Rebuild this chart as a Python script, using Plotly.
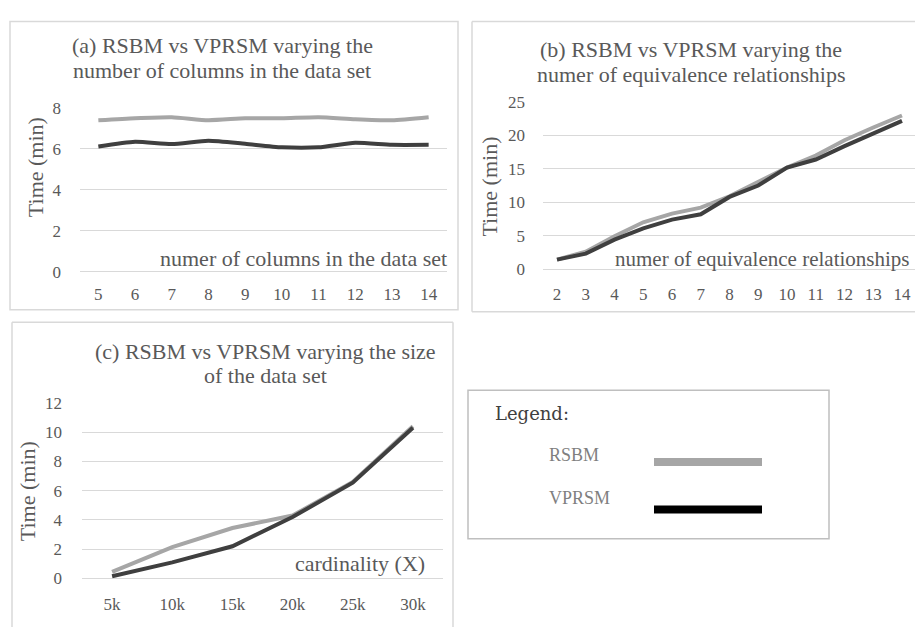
import plotly.graph_objects as go

W, H = 915, 637

# ---- data ----
cols_x = [5, 6, 7, 8, 9, 10, 11, 12, 13, 14]
cols_rsbm = [7.4, 7.5, 7.55, 7.4, 7.5, 7.5, 7.55, 7.45, 7.4, 7.55]
cols_vprsm = [6.12, 6.35, 6.24, 6.4, 6.25, 6.08, 6.08, 6.3, 6.2, 6.2]

eq_x = [2, 3, 4, 5, 6, 7, 8, 9, 10, 11, 12, 13, 14]
eq_rsbm = [1.4, 2.6, 4.9, 7.0, 8.3, 9.2, 10.9, 13.1, 15.2, 17.0, 19.3, 21.2, 23.0]
eq_vprsm = [1.4, 2.3, 4.4, 6.1, 7.4, 8.2, 10.8, 12.5, 15.2, 16.4, 18.4, 20.3, 22.2]

size_x = ["5k", "10k", "15k", "20k", "25k", "30k"]
size_rsbm = [0.45, 2.15, 3.45, 4.3, 6.6, 10.4]
size_vprsm = [0.15, 1.1, 2.2, 4.2, 6.55, 10.3]

GRAY = "#a6a6a6"
DARK = "#3f3f3f"
TXT = "#595959"
GRID = "#d9d9d9"
FONT = "Liberation Serif"


def px(x):
    return x / W


def py(y):
    return 1 - y / H


fig = go.Figure()

# panel a
fig.add_trace(go.Scatter(x=cols_x, y=cols_rsbm, mode="lines", line=dict(color=GRAY, width=4, shape="spline", smoothing=0.6),
                         xaxis="x", yaxis="y", showlegend=False))
fig.add_trace(go.Scatter(x=cols_x, y=cols_vprsm, mode="lines", line=dict(color=DARK, width=4, shape="spline", smoothing=0.6),
                         xaxis="x", yaxis="y", showlegend=False))
# panel b
fig.add_trace(go.Scatter(x=eq_x, y=eq_rsbm, mode="lines", line=dict(color=GRAY, width=4),
                         xaxis="x2", yaxis="y2", showlegend=False))
fig.add_trace(go.Scatter(x=eq_x, y=eq_vprsm, mode="lines", line=dict(color=DARK, width=4),
                         xaxis="x2", yaxis="y2", showlegend=False))
# panel c
fig.add_trace(go.Scatter(x=size_x, y=size_rsbm, mode="lines", line=dict(color=GRAY, width=4),
                         xaxis="x3", yaxis="y3", showlegend=False))
fig.add_trace(go.Scatter(x=size_x, y=size_vprsm, mode="lines", line=dict(color=DARK, width=4),
                         xaxis="x3", yaxis="y3", showlegend=False))

tickfont = dict(family=FONT, size=17, color=TXT)


def xax(domain, rng, anchor, tickvals=None, ttype="linear", standoff=14):
    d = dict(domain=domain, range=rng, anchor=anchor, showgrid=False, zeroline=False,
             showline=False, ticks="", tickfont=tickfont, ticklabelstandoff=standoff, fixedrange=True)
    if ttype == "category":
        d["type"] = "category"
    else:
        d["tickvals"] = tickvals
    return d


def yax(domain, rng, dtick, anchor, standoff=18):
    return dict(domain=domain, range=rng, dtick=dtick, anchor=anchor, showgrid=True, gridcolor=GRID,
                gridwidth=1, zeroline=True, zerolinecolor=GRID, zerolinewidth=1, showline=False, ticks="",
                tickfont=tickfont, ticklabelstandoff=standoff, fixedrange=True)


step_b = 28.75
b_lo = -(557 - 543) / step_b + 2
b_hi = (915 - 557) / step_b + 2

fig.update_layout(
    width=W, height=H, margin=dict(l=0, r=0, t=0, b=0),
    paper_bgcolor="white", plot_bgcolor="white",
    xaxis=xax([px(80), px(447)], [4.5, 14.5], "y", tickvals=cols_x, standoff=10),
    yaxis=yax([py(271), py(102)], [0, 8], 2, "x", standoff=18),
    xaxis2=xax([px(543), 1.0], [b_lo, b_hi], "y2", tickvals=eq_x, standoff=13),
    yaxis2=yax([py(268), py(96)], [0, 25], 5, "x2", standoff=17),
    xaxis3=dict(xax([px(82), px(443)], [-0.5, 5.5], "y3", ttype="category", standoff=14)),
    yaxis3=yax([py(587), py(406)], [0, 12], 2, "x3", standoff=19),
)


def ann(text, x, y, xanchor="center", size=22, color=TXT, angle=0, family=FONT, yanchor="middle"):
    fig.add_annotation(text=text, x=px(x), y=py(y), xref="paper", yref="paper", showarrow=False,
                       xanchor=xanchor, yanchor=yanchor, textangle=angle,
                       font=dict(family=family, size=size, color=color))


# titles (one annotation per line)
ann("(a) RSBM vs VPRSM varying the", 222, 38)
ann("number of columns in the data set", 222, 63)
ann("(b) RSBM vs VPRSM varying the", 691, 42)
ann("numer of equivalence relationships", 691, 67)
ann("(c) RSBM vs VPRSM varying the size", 265, 353)
ann("of the data set", 265, 378)
# y titles
ann("Time (min)", 35, 163, angle=-90)
ann("Time (min)", 490, 183, angle=-90)
ann("Time (min)", 27, 497, angle=-90)
# x titles
ann("numer of columns in the data set", 449, 257, xanchor="right")
ann("numer of equivalence relationships", 911, 258, xanchor="right", size=21)
ann("cardinality (X)", 427, 572, xanchor="right")

# legend box
ann("Legend:", 493, 417, xanchor="left", size=18, color="#404040", family="DejaVu Serif")
ann("RSBM", 547, 460, xanchor="left", size=18, color="#7f7f7f")
ann("VPRSM", 547, 504, xanchor="left", size=18, color="#7f7f7f")

shapes = []
BORDER = dict(color=GRID, width=1.5)
# panel a border
shapes.append(dict(type="rect", xref="paper", yref="paper", x0=px(10), x1=px(458), y0=py(310), y1=py(13), line=BORDER))
# panel b border (right side cut off)
for (x0, y0, x1, y1) in [(472, 13, 915, 13), (472, 13, 472, 312), (472, 312, 915, 312)]:
    shapes.append(dict(type="line", xref="paper", yref="paper", x0=px(x0), y0=py(y0), x1=px(x1), y1=py(y1), line=BORDER))
# panel c border (bottom cut off)
for (x0, y0, x1, y1) in [(12, 323, 453, 323), (12, 323, 12, 637), (453, 323, 453, 637)]:
    shapes.append(dict(type="line", xref="paper", yref="paper", x0=px(x0), y0=py(y0), x1=px(x1), y1=py(y1), line=BORDER))
# legend box
shapes.append(dict(type="rect", xref="paper", yref="paper", x0=px(468), x1=px(829), y0=py(546), y1=py(393),
                   line=dict(color="#bfbfbf", width=1.5)))
shapes.append(dict(type="line", xref="paper", yref="paper", x0=px(654), x1=px(762), y0=py(467), y1=py(467),
                   line=dict(color=GRAY, width=8)))
shapes.append(dict(type="line", xref="paper", yref="paper", x0=px(654), x1=px(762), y0=py(516), y1=py(516),
                   line=dict(color="#000000", width=8)))
fig.update_layout(shapes=shapes)

fig.write_html("out.html", config={"displayModeBar": False},
               post_script="document.body.style.margin='0';document.body.style.overflow='hidden';")
